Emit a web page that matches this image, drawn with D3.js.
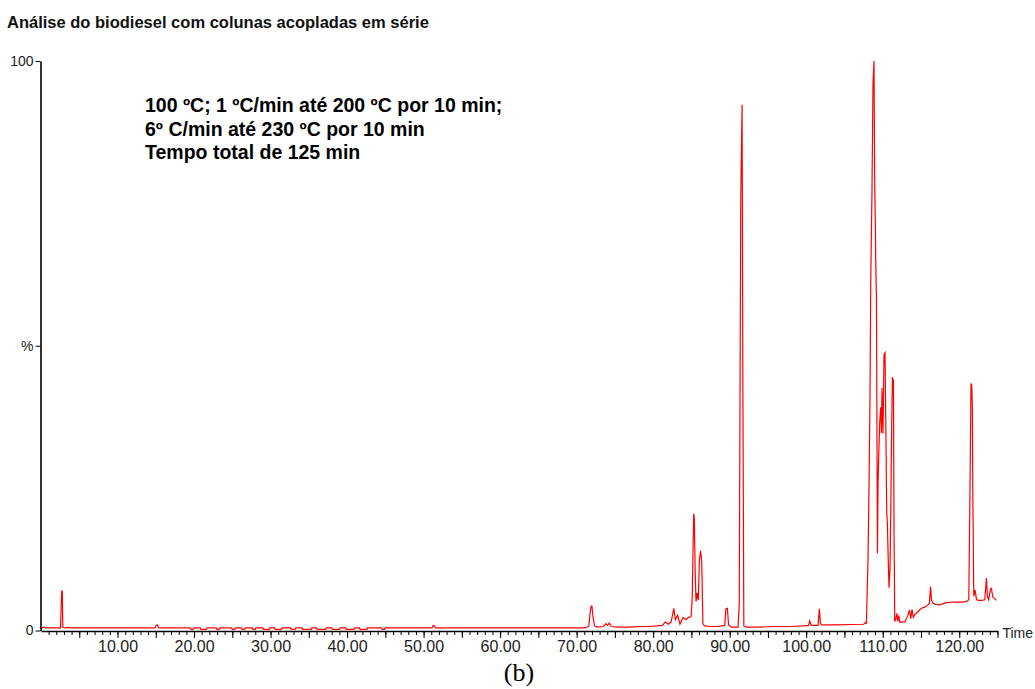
<!DOCTYPE html>
<html>
<head>
<meta charset="utf-8">
<script src="https://cdn.jsdelivr.net/npm/d3@7"></script>
<style>
  body { margin: 0; background: #fff; }
  svg { display: block; }
</style>
</head>
<body>
<svg id="chart" width="1035" height="689"></svg>
<script>
// Chromatogram trace: retention time (min) and relative abundance (%)
const timeMin = [
  0.05, 0.4, 0.6, 2.55, 2.62, 2.7, 2.78, 2.85, 3.1, 3.6, 3.9,
  14.9, 15.05, 15.2, 15.35, 15.6,
  19.5, 19.6, 19.9, 20.0, 20.8, 20.9, 21.6, 21.7, 22.9, 23.0, 23.3, 23.4,
  24.9, 25.0, 25.3, 25.4, 26.2, 26.3, 26.6, 26.7, 27.6, 27.7, 28.0, 28.1,
  29.0, 29.1, 29.8, 29.9, 30.5, 30.6, 31.4, 31.5, 32.6, 32.7, 33.2, 33.3,
  34.1, 34.2, 35.3, 35.4, 36.0, 36.1, 37.2, 37.3, 38.0, 38.1, 39.0, 39.1,
  39.8, 39.9, 40.9, 41.0, 41.6, 41.7, 42.6, 42.7, 44.5, 44.6, 44.9, 45.0,
  51.1, 51.25, 51.4, 51.55,
  70.5, 71.2, 71.6, 71.75, 71.9, 72.0, 72.15, 72.35, 72.7, 73.5, 73.85, 74.05, 74.25, 74.5,
  75.5, 76.5, 77.5, 78.5, 79.5, 80.5, 81.2, 81.6, 82.0, 82.35, 82.7, 82.9, 83.2, 83.5,
  83.9, 84.3, 84.6, 84.95, 85.1, 85.2, 85.3, 85.38, 85.48, 85.6, 85.75, 85.9, 86.05,
  86.2, 86.35, 86.5, 86.7, 87.5, 88.5, 89.35, 89.5, 89.7, 89.85, 90.2, 91.1, 91.25,
  91.45, 91.62, 91.72, 91.85, 92.2, 94.0, 96.0, 98.0, 99.6, 100.3, 100.46, 100.65,
  101.55, 101.72, 101.85, 102.0, 102.4, 104.0, 106.0, 107.5, 107.75,
  107.87, 108.08, 108.21, 108.34, 108.43, 108.6, 108.73, 108.86, 108.95, 109.05,
  109.08, 109.18, 109.31, 109.39, 109.52, 109.61, 109.74, 109.83, 109.91, 110.04,
  110.17, 110.3, 110.39, 110.52, 110.61, 110.69, 110.82, 110.95, 111.05, 111.14,
  111.27, 111.4, 111.48, 111.57, 111.7, 111.85, 111.95, 112.1, 112.25, 112.5,
  112.9, 113.3, 113.5, 113.66, 113.83, 114.0, 114.2, 114.6, 115.05, 115.5, 115.9,
  116.1, 116.25, 116.37, 116.55, 116.9, 117.45, 118.3, 119.4, 120.5, 120.95, 121.25,
  121.4, 121.54, 121.64, 121.72, 121.77, 121.9, 122.07, 122.25, 122.46, 122.9,
  123.33, 123.46, 123.55, 123.68, 123.85, 124.03, 124.2, 124.3, 124.41, 124.63, 124.85
];
const relAbundance = [
  0.45, 0.6, 0.45, 0.45, 3.5, 6.9, 6.9, 0.6, 0.45, 0.55, 0.45,
  0.45, 0.9, 1.0, 0.5, 0.45,
  0.45, 0.2, 0.2, 0.45, 0.45, 0.2, 0.2, 0.45, 0.45, 0.2, 0.2, 0.45,
  0.45, 0.2, 0.2, 0.45, 0.45, 0.2, 0.2, 0.45, 0.45, 0.2, 0.2, 0.45,
  0.45, 0.2, 0.2, 0.45, 0.45, 0.2, 0.2, 0.45, 0.45, 0.2, 0.2, 0.45,
  0.45, 0.2, 0.2, 0.45, 0.45, 0.2, 0.2, 0.45, 0.45, 0.2, 0.2, 0.45,
  0.45, 0.2, 0.2, 0.45, 0.45, 0.2, 0.2, 0.45, 0.45, 0.2, 0.2, 0.45,
  0.45, 0.9, 0.8, 0.45,
  0.45, 0.5, 0.8, 3.0, 4.3, 4.3, 2.2, 0.8, 0.6, 0.7, 1.2, 0.9, 1.3, 0.7,
  0.6, 0.6, 0.65, 0.7, 0.7, 0.8, 0.9, 1.5, 1.1, 1.5, 3.9, 1.9, 2.7, 1.1,
  2.3, 1.9, 2.3, 2.4, 5.5, 13.3, 20.5, 19.8, 11.0, 5.1, 6.6, 5.3, 12.5,
  14.0, 12.0, 1.2, 0.8, 0.7, 0.7, 0.9, 3.8, 3.9, 1.0, 0.6, 0.6, 4.7,
  76.0, 92.3, 45.0, 0.8, 0.6, 0.6, 0.7, 0.7, 0.8, 0.9, 1.7, 0.9,
  0.9, 3.8, 1.3, 1.0, 1.0, 1.0, 1.05, 1.1, 1.4,
  1.3, 12.7, 25.4, 41.5, 60.7, 77.5, 96.0, 100.0, 78.8, 70.3,
  65.6, 58.4, 13.5, 26.0, 32.6, 36.6, 39.2, 34.7, 42.6, 34.6,
  48.5, 48.8, 38.5, 20.8, 18.8, 14.1, 7.5, 10.8, 20.8, 32.6,
  44.5, 43.8, 17.5, 1.6, 2.0, 3.0, 1.6, 2.6, 1.4, 1.5,
  1.5, 2.7, 3.6, 2.1, 3.7, 2.3, 2.8, 3.3, 3.9, 4.1, 4.5,
  4.8, 7.7, 5.4, 4.8, 4.6, 4.5, 4.9, 5.0, 5.0, 5.1, 5.4,
  24.2, 43.4, 43.0, 38.6, 24.5, 6.0, 7.1, 5.5, 5.3, 5.3,
  5.4, 7.5, 9.2, 6.0, 5.4, 6.9, 7.5, 6.5, 5.8, 5.6, 5.3
];

// Axis ticks
const xMinorTicks = d3.range(1, 126, 1);
const xMajorTicks = d3.range(5, 126, 5);
const xLabelTicks = [10, 20, 30, 40, 50, 60, 70, 80, 90, 100, 110, 120];
const yTickValues = [0, 50, 100];
const yTickText = ["0", "%", "100"];

// Text blocks
const chartTitle = "Análise do biodiesel com colunas acopladas em série";
const methodLines = [
  "100 ºC; 1 ºC/min até 200 ºC por 10 min;",
  "6º C/min até 230 ºC por 10 min",
  "Tempo total de 125 min"
];
const xAxisName = "Time";
const panelLabel = "(b)";

const svg = d3.select("#chart");
const sans = "'Liberation Sans', Arial, sans-serif";

const x = d3.scaleLinear().domain([0, 125]).range([41, 997.5]);
const y = d3.scaleLinear().domain([0, 100]).range([630.5, 61]);

// Title
svg.append("text")
  .attr("x", 7).attr("y", 28)
  .attr("font-family", sans).attr("font-size", 16.5).attr("font-weight", "bold")
  .attr("fill", "#111")
  .text(chartTitle);

// Method annotation
svg.append("g").selectAll("text").data(methodLines).join("text")
  .attr("x", 145)
  .attr("y", (d, i) => 112 + i * 23.5)
  .attr("font-family", sans).attr("font-size", 19.5).attr("font-weight", "bold")
  .attr("fill", "#000")
  .text(d => d);

// Trace
const pts = timeMin.map((t, i) => [t, relAbundance[i]]);
svg.append("path")
  .datum(pts)
  .attr("fill", "none")
  .attr("stroke", "#ff0000")
  .attr("stroke-width", 1.2)
  .attr("stroke-linejoin", "miter")
  .attr("d", d3.line().x(d => x(d[0])).y(d => y(d[1])));

// X axis: minor ticks every minute
const xAxisY = 631;
svg.append("g")
  .attr("transform", `translate(0,${xAxisY})`)
  .call(d3.axisBottom(x).tickValues(xMinorTicks).tickSize(4).tickSizeOuter(0).tickFormat(""))
  .call(g => g.select(".domain").attr("stroke", "#000").attr("stroke-width", 1.6))
  .call(g => g.selectAll(".tick line").attr("stroke", "#000"));

// X axis: longer ticks every 5 min, labels every 10 min
svg.append("g")
  .attr("transform", `translate(0,${xAxisY})`)
  .call(d3.axisBottom(x).tickValues(xMajorTicks).tickSize(7).tickPadding(3)
    .tickFormat(d => xLabelTicks.includes(d) ? d3.format(".2f")(d) : ""))
  .call(g => g.select(".domain").remove())
  .call(g => g.selectAll(".tick line").attr("stroke", "#000"))
  .call(g => g.selectAll(".tick text")
    .attr("font-family", sans).attr("font-size", 16).attr("fill", "#222"));

svg.append("text")
  .attr("x", 1033).attr("y", 638)
  .attr("text-anchor", "end")
  .attr("font-family", sans).attr("font-size", 14).attr("fill", "#222")
  .text(xAxisName);

// Y axis
svg.append("g")
  .attr("transform", "translate(40.5,0)")
  .call(d3.axisLeft(y).tickValues(yTickValues).tickSize(5).tickSizeOuter(0).tickPadding(2)
    .tickFormat((d, i) => yTickText[i]))
  .call(g => g.select(".domain").attr("stroke", "#000").attr("stroke-width", 1.6))
  .call(g => g.selectAll(".tick line").attr("stroke", "#000"))
  .call(g => g.selectAll(".tick text")
    .attr("font-family", sans).attr("font-size", 14).attr("fill", "#222"));

// Panel label
svg.append("text")
  .attr("x", 519).attr("y", 681)
  .attr("text-anchor", "middle")
  .attr("font-family", "'Liberation Serif', 'Times New Roman', serif")
  .attr("font-size", 26).attr("fill", "#000")
  .text(panelLabel);
</script>
</body>
</html>
